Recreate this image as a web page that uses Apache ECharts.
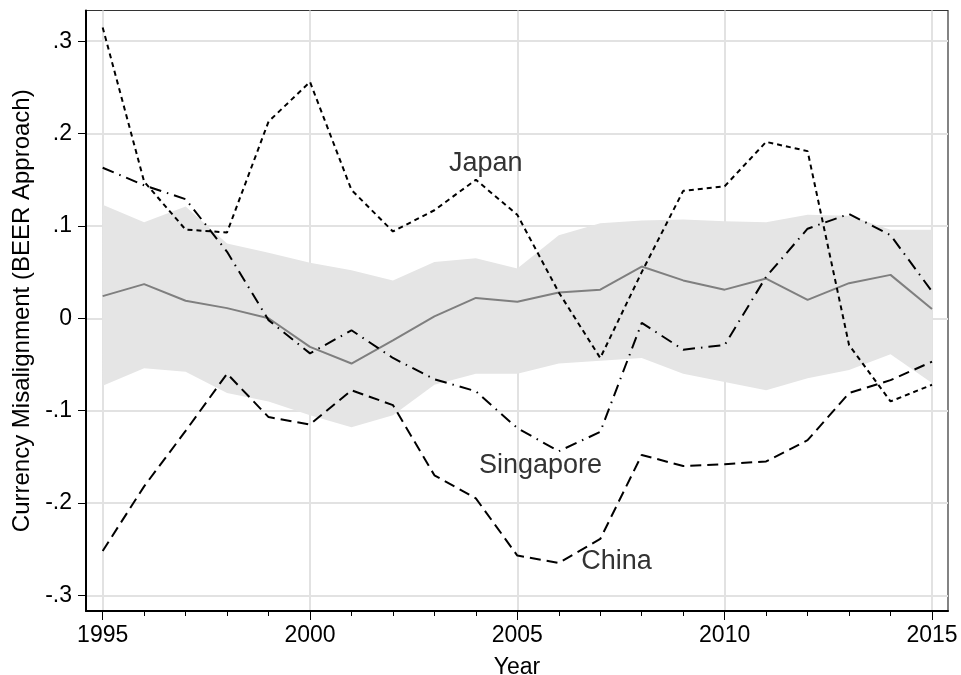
<!DOCTYPE html>
<html>
<head>
<meta charset="utf-8">
<script src="https://cdn.jsdelivr.net/npm/echarts@6/dist/echarts.min.js"></script>
<style>
  html, body { margin: 0; padding: 0; background: #fff; }
  #main { width: 961px; height: 675px; }
</style>
</head>
<body>
<div id="main"></div>
<script>
// years on the x axis
var years = [1995, 1996, 1997, 1998, 1999, 2000, 2001, 2002, 2003, 2004, 2005,
  2006, 2007, 2008, 2009, 2010, 2011, 2012, 2013, 2014, 2015]
var majorYears = [1995, 2000, 2005, 2010, 2015]
var yTicks = [-0.3, -0.2, -0.1, 0, 0.1, 0.2, 0.3]

// country series
var japan = [0.315, 0.148, 0.096, 0.093, 0.213, 0.256, 0.139, 0.094, 0.117, 0.150, 0.112,
  0.028, -0.043, 0.050, 0.138, 0.143, 0.191, 0.181, -0.029, -0.090, -0.072]
var singapore = [0.163, 0.144, 0.129, 0.072, -0.002, -0.038, -0.013, -0.043, -0.066, -0.079, -0.119,
  -0.144, -0.123, -0.005, -0.034, -0.029, 0.045, 0.097, 0.113, 0.090, 0.029]
var china = [-0.252, -0.182, -0.122, -0.060, -0.107, -0.115, -0.078, -0.094, -0.170, -0.195, -0.257,
  -0.265, -0.239, -0.148, -0.160, -0.158, -0.155, -0.132, -0.081, -0.067, -0.047]

// average and its band
var average = [0.024, 0.037, 0.019, 0.011, 0.000, -0.031, -0.049, -0.024, 0.002, 0.022, 0.018,
  0.028, 0.031, 0.056, 0.041, 0.031, 0.043, 0.020, 0.038, 0.047, 0.010]
var bandHigh = [0.123, 0.104, 0.121, 0.081, 0.071, 0.060, 0.052, 0.041, 0.061, 0.065, 0.054,
  0.090, 0.103, 0.106, 0.107, 0.105, 0.104, 0.112, 0.111, 0.096, 0.096]
var bandLow = [-0.073, -0.054, -0.058, -0.081, -0.090, -0.105, -0.118, -0.105, -0.072, -0.060, -0.060,
  -0.049, -0.046, -0.043, -0.060, -0.069, -0.078, -0.065, -0.056, -0.039, -0.070]

// text labels on the plot
var labelNames = ['Japan', 'Singapore', 'China']
var labelX = [2004.24, 2005.56, 2007.39]
var labelY = [0.168, -0.159, -0.263]

function pairs(vals) {
  return years.map(function (y, i) { return [y, vals[i]] })
}

function yFmt(v) {
  var r = Math.round(v * 10)
  if (r === 0) return '0'
  return (r < 0 ? '-' : '') + '.' + Math.abs(r)
}

var font = 'Liberation Sans, Arial, Helvetica, sans-serif'
var xMin = 1994.598
var xMax = 2015.386

var myChart = echarts.init(document.getElementById('main'))
var option = {
  animation: false,
  backgroundColor: '#fff',
  textStyle: { fontFamily: font },
  grid: {
    left: 86, right: 13, top: 10.5, bottom: 64,
    outerBoundsMode: 'none',
    show: true, borderColor: '#333', borderWidth: 1.2, backgroundColor: 'transparent'
  },
  xAxis: [
    {
      type: 'value', min: xMin, max: xMax, position: 'bottom',
      axisLine: { show: true, onZero: false, lineStyle: { color: '#000', width: 2 } },
      axisTick: { show: true, customValues: years, length: 5, lineStyle: { color: '#000', width: 1 } },
      axisLabel: { show: false },
      splitLine: { show: false }
    },
    {
      type: 'value', min: xMin, max: xMax, position: 'bottom',
      axisLine: { show: false, onZero: false },
      axisTick: { show: true, customValues: majorYears, length: 9, lineStyle: { color: '#000', width: 1 } },
      axisLabel: {
        show: true, customValues: majorYears, fontSize: 23, color: '#000', margin: 13, fontFamily: font,
        formatter: function (v) { return String(Math.round(v)) }
      },
      splitLine: { show: true, lineStyle: { color: '#e2e2e2', width: 2 } },
      name: 'Year', nameLocation: 'middle', nameGap: 45,
      nameTextStyle: { fontSize: 23, color: '#000', fontFamily: font }
    }
  ],
  yAxis: {
    type: 'value', min: -0.317, max: 0.3333,
    axisLine: { show: true, onZero: false, lineStyle: { color: '#000', width: 2 } },
    axisTick: { show: true, customValues: yTicks, length: 8, lineStyle: { color: '#000', width: 1 } },
    axisLabel: { show: true, customValues: yTicks, formatter: yFmt, fontSize: 23, color: '#000', margin: 14, fontFamily: font },
    splitLine: { show: true, lineStyle: { color: '#e2e2e2', width: 2 } },
    name: 'Currency Misalignment (BEER Approach)', nameLocation: 'middle', nameGap: 50, nameRotate: 90,
    nameTextStyle: { fontSize: 24, color: '#000', fontFamily: font }
  },
  series: [
    {
      name: 'band',
      type: 'custom',
      xAxisIndex: 0,
      data: years.map(function (y, i) { return [y, bandLow[i], bandHigh[i]] }),
      renderItem: function (params, api) {
        if (params.dataIndex !== 0) return null
        var pts = []
        for (var i = 0; i < years.length; i++) pts.push(api.coord([years[i], bandHigh[i]]))
        for (var j = years.length - 1; j >= 0; j--) pts.push(api.coord([years[j], bandLow[j]]))
        return { type: 'polygon', shape: { points: pts }, style: { fill: '#e5e5e5' } }
      },
      z: 1
    },
    {
      name: 'Average', type: 'line', xAxisIndex: 0, data: pairs(average), showSymbol: false,
      lineStyle: { color: '#7f7f7f', width: 2 }, z: 2
    },
    {
      name: 'China', type: 'line', xAxisIndex: 0, data: pairs(china), showSymbol: false,
      lineStyle: { color: '#000', width: 2, type: [11, 6] }, z: 3
    },
    {
      name: 'Singapore', type: 'line', xAxisIndex: 0, data: pairs(singapore), showSymbol: false,
      lineStyle: { color: '#000', width: 2, type: [12, 6, 1.5, 6] }, z: 3
    },
    {
      name: 'Japan', type: 'line', xAxisIndex: 0, data: pairs(japan), showSymbol: false,
      lineStyle: { color: '#000', width: 2, type: [5, 4] }, z: 3
    },
    {
      name: 'labels', type: 'scatter', xAxisIndex: 0, symbolSize: 0, silent: true,
      itemStyle: { color: '#333', opacity: 1 },
      data: labelNames.map(function (n, i) { return { value: [labelX[i], labelY[i]], name: n } }),
      label: {
        show: true, position: 'inside', formatter: '{b}',
        fontSize: 27, color: '#333', textBorderWidth: 0, fontFamily: font
      },
      z: 4
    }
  ]
}
myChart.setOption(option)
</script>
</body>
</html>
